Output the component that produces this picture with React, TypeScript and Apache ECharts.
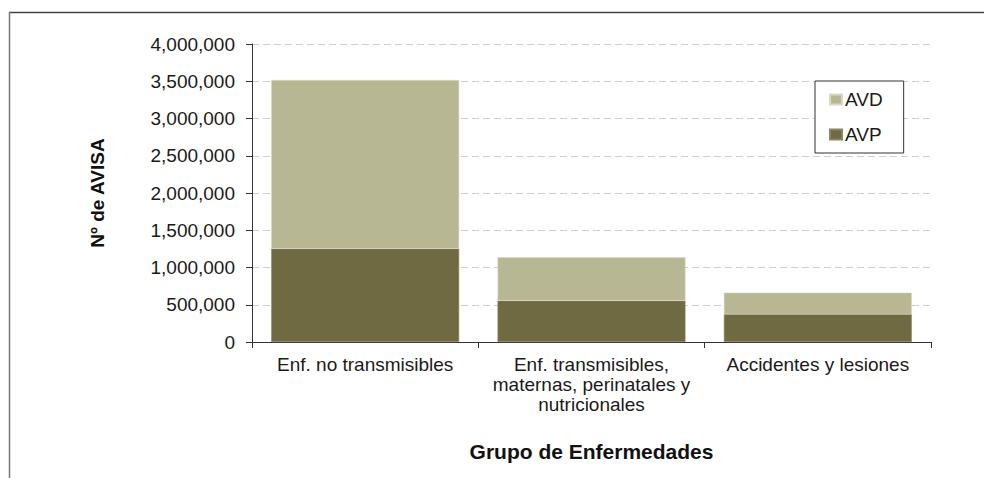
import React, { useEffect, useRef } from "react";
import * as echarts from "echarts";

const categories = [
  "Enf. no transmisibles",
  "Enf. transmisibles,\nmaternas, perinatales y\nnutricionales",
  "Accidentes y lesiones",
];
const avp = [1252000, 554000, 372000];
const avd = [2265000, 583000, 290000];
const seriesNames = ["AVD", "AVP"];
const yTicks = { min: 0, max: 4000000, interval: 500000 };

const FONT = "Liberation Sans, Arial, sans-serif";

export default function App() {
  const ref = useRef<HTMLDivElement>(null);
  useEffect(() => {
    if (!ref.current) return;
    const chart = echarts.init(ref.current, undefined, { renderer: "svg" });
    chart.setOption({
      animation: false,
      backgroundColor: "#ffffff",
      textStyle: { fontFamily: FONT },
      graphic: [
        { type: "line", shape: { x1: 9, y1: 12.5, x2: 984, y2: 12.5 }, style: { stroke: "#444", lineWidth: 1.5 } },
        { type: "line", shape: { x1: 9.5, y1: 12, x2: 9.5, y2: 478 }, style: { stroke: "#777", lineWidth: 1.5 } },
      ],
      grid: { left: 252, top: 44, right: 53, bottom: 136, containLabel: false },
      legend: {
        orient: "vertical",
        left: 815,
        top: 81,
        data: seriesNames,
        itemWidth: 12,
        itemHeight: 10,
        itemGap: 16,
        padding: [9, 21, 9, 14],
        borderColor: "#333",
        borderWidth: 1,
        backgroundColor: "#fff",
        icon: "rect",
        textStyle: { fontSize: 19, color: "#1a1a1a", fontFamily: FONT, padding: [0, 0, 0, -2] },
      },
      xAxis: {
        type: "category",
        data: categories,
        name: "Grupo de Enfermedades",
        nameLocation: "middle",
        nameGap: 99,
        nameTextStyle: { fontSize: 21, fontWeight: "bold", color: "#111", fontFamily: FONT },
        axisLine: { lineStyle: { color: "#333", width: 1 } },
        axisTick: { show: true, alignWithLabel: false, length: 6, lineStyle: { color: "#333" } },
        axisLabel: { fontSize: 19, color: "#1a1a1a", lineHeight: 20, margin: 12, interval: 0, fontFamily: FONT },
      },
      yAxis: {
        type: "value",
        min: yTicks.min,
        max: yTicks.max,
        interval: yTicks.interval,
        name: "Nº de AVISA",
        nameLocation: "middle",
        nameRotate: 90,
        nameGap: 145,
        nameTextStyle: { fontSize: 19, fontWeight: "bold", color: "#111", fontFamily: FONT },
        axisLine: { show: true, lineStyle: { color: "#333", width: 1 } },
        axisTick: { show: true, length: 6, lineStyle: { color: "#333" } },
        axisLabel: {
          fontSize: 19,
          color: "#1a1a1a",
          margin: 17,
          fontFamily: FONT,
          formatter: (v: number) => v.toLocaleString("en-US"),
        },
        splitLine: { show: true, lineStyle: { color: "#cfcfcf", type: [7, 4], width: 1 } },
      },
      series: [
        {
          name: "AVP",
          type: "bar",
          stack: "total",
          data: avp,
          barCategoryGap: "17%",
          itemStyle: { color: "#706a42", borderColor: "#8a8460", borderWidth: 0.5 },
        },
        {
          name: "AVD",
          type: "bar",
          stack: "total",
          data: avd,
          barCategoryGap: "17%",
          itemStyle: { color: "#b8b794", borderColor: "#d8d8c4", borderWidth: 0.5 },
        },
      ],
    });
    return () => chart.dispose();
  }, []);
  return (
    <div
      ref={ref}
      style={{ position: "absolute", left: 0, top: 0, width: 984, height: 478 }}
    />
  );
}
